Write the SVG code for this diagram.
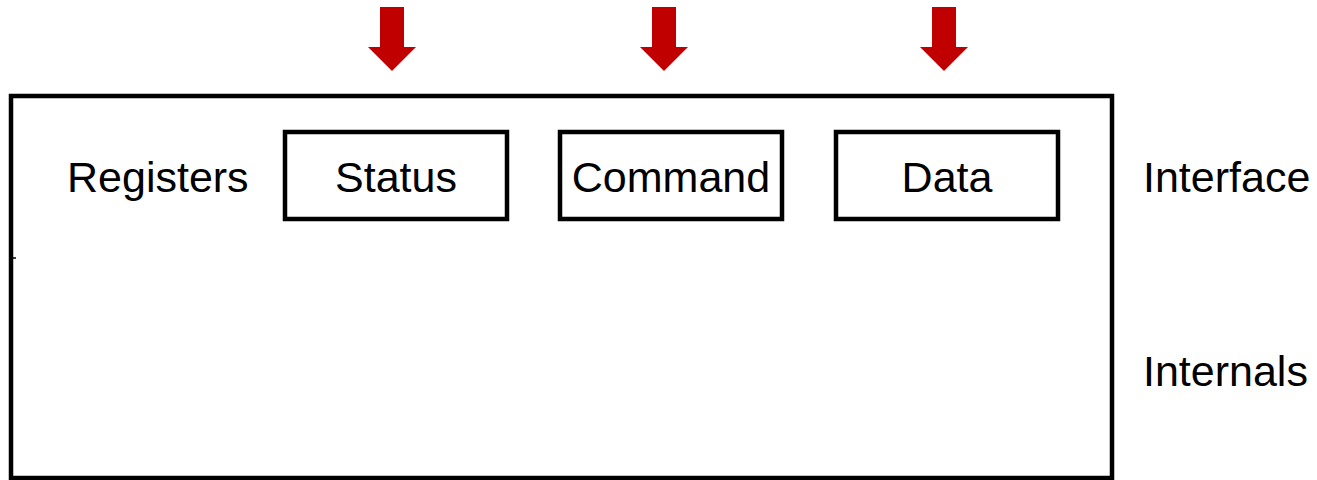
<svg xmlns="http://www.w3.org/2000/svg" width="1317" height="480" viewBox="0 0 1317 480">
  <style>
    .frame { fill: none; stroke: #000; stroke-width: 4.5; }
    .reg { fill: #fff; stroke: #000; stroke-width: 4.5; }
    .lbl { font-family: "Liberation Sans", Arial, sans-serif; font-size: 43px; fill: #000; }
    .mid { text-anchor: middle; }
    .arrow { fill: #c00000; }
  </style>
  <defs>
    <path id="downArrow" d="M -12 7 H 12 V 47 H 24 L 0 71 L -24 47 H -12 Z"/>
  </defs>
  <rect width="1317" height="480" fill="#fff"/>

  <!-- device outline -->
  <g id="device">
    <rect class="frame" x="11" y="96" width="1101" height="382"/>
    <line x1="11" y1="258" x2="16" y2="258" stroke="#000" stroke-width="1.5"/>
    <text class="lbl" x="67" y="192">Registers</text>
  </g>

  <!-- register boxes -->
  <g id="status">
    <rect class="reg" x="285" y="132" width="222" height="87"/>
    <text class="lbl mid" x="396" y="192">Status</text>
  </g>
  <g id="command">
    <rect class="reg" x="560" y="132" width="222" height="87"/>
    <text class="lbl mid" x="671" y="192">Command</text>
  </g>
  <g id="data">
    <rect class="reg" x="836" y="132" width="222" height="87"/>
    <text class="lbl mid" x="947" y="192">Data</text>
  </g>

  <!-- side labels -->
  <g id="interface">
    <text class="lbl" x="1143" y="192">Interface</text>
  </g>
  <g id="internals">
    <text class="lbl" x="1143" y="386">Internals</text>
  </g>

  <!-- incoming arrows -->
  <g id="connectors" class="arrow">
    <use href="#downArrow" x="392" y="0"/>
    <use href="#downArrow" x="664" y="0"/>
    <use href="#downArrow" x="944" y="0"/>
  </g>
</svg>
